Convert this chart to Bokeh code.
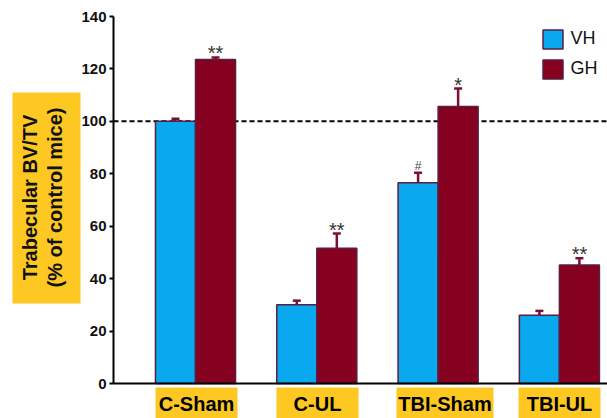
import math
from bokeh.plotting import figure
from bokeh.models import (ColumnDataSource, Range1d, FixedTicker, Whisker, TeeHead,
                          Legend, LegendItem, BoxAnnotation, Label)
from bokeh.transform import dodge
from bokeh.core.properties import value
from bokeh.embed import file_html
from bokeh.resources import INLINE

# ---- data ----
groups = ["C-Sham", "C-UL", "TBI-Sham", "TBI-UL"]
vh = [100.0, 30.0, 76.6, 26.0]
gh = [123.6, 51.6, 105.7, 45.2]
vh_err = [1.0, 1.6, 3.8, 1.7]
gh_err = [0.8, 5.6, 6.8, 2.6]
vh_marks = ["", "", "#", ""]
gh_marks = ["**", "**", "*", "**"]
y_ticks = [0, 20, 40, 60, 80, 100, 120, 140]
ref_line = 100

FONT = "Liberation Sans"
BLUE = "#0AA8EE"
RED = "#86001F"
EDGE = "#5A1E42"
YELLOW = "#FDC822"
BW = 0.33

# layout (pixels)
W, H = 607, 418
AX_X, AX_Y0, AX_Y140, C0, STEP = 113, 383, 16, 195, 121.3
ppu = (AX_Y0 - AX_Y140) / 140.0
x_start = -C0 / STEP
x_end = (W - C0) / STEP
axis_x = (AX_X - C0) / STEP
y_start = -(H - AX_Y0) / ppu
y_end = 140 + AX_Y140 / ppu

xs = list(range(len(groups)))
src = ColumnDataSource(dict(
    x=xs, vh=vh, gh=gh,
    vh_up=[v + e for v, e in zip(vh, vh_err)],
    gh_up=[v + e for v, e in zip(gh, gh_err)],
    vh_mark=vh_marks, gh_mark=gh_marks,
))

p = figure(width=W, height=H, output_backend="svg", toolbar_location=None,
           x_range=Range1d(x_start, x_end), y_range=Range1d(y_start, y_end),
           min_border_left=0, min_border_right=0, min_border_top=0, min_border_bottom=0)
p.outline_line_color = None
p.grid.visible = False
p.background_fill_color = "white"

# label boxes (screen units, frame == whole figure)
boxes = [(155, 237), (276, 358), (396, 493), (518, 600)]
for (l, r), g in zip(boxes, groups):
    p.add_layout(BoxAnnotation(left=l, right=r, top=H - 387, bottom=-5,
                               left_units="screen", right_units="screen",
                               top_units="screen", bottom_units="screen",
                               fill_color=YELLOW, fill_alpha=1, line_color=None,
                               level="underlay"))
    p.add_layout(Label(x=(l + r) / 2, y=H - 403, x_units="screen", y_units="screen", text=g,
                       text_font=FONT, text_font_style="bold", text_font_size="20px",
                       text_color="black", text_align="center", text_baseline="middle"))

p.add_layout(BoxAnnotation(left=12, right=80, top=H - 92, bottom=H - 303,
                           left_units="screen", right_units="screen",
                           top_units="screen", bottom_units="screen",
                           fill_color=YELLOW, fill_alpha=1, line_color=None, level="underlay"))
p.add_layout(Label(x=42, y=H - 197, x_units="screen", y_units="screen",
                   text="Trabecular BV/TV\n(% of control mice)", angle=math.pi / 2,
                   text_font=FONT, text_font_style="bold", text_font_size="20px",
                   text_color="#111111", text_align="center", text_baseline="middle",
                   text_line_height=1.1))

# reference line
p.segment(x0=[axis_x], y0=[ref_line], x1=[x_end], y1=[ref_line],
          line_color="black", line_width=2, line_dash="5 3")

r_vh = p.vbar(x=dodge("x", -BW / 2), top="vh", width=BW, source=src,
              fill_color=BLUE, line_color=EDGE, line_width=1.5)
r_gh = p.vbar(x=dodge("x", BW / 2), top="gh", width=BW, source=src,
              fill_color=RED, line_color=EDGE, line_width=1.5)

for col, up, off in (("vh", "vh_up", -BW / 2), ("gh", "gh_up", BW / 2)):
    w = Whisker(base=dodge("x", off), lower=col, upper=up, source=src,
                line_color="#7A0F35", line_width=2.5, lower_head=None,
                upper_head=TeeHead(size=8, line_color="#7A0F35", line_width=2.5))
    p.add_layout(w)

p.text(x=dodge("x", -BW / 2), y="vh_up", text="vh_mark", source=src,
       text_font=value(FONT), text_font_size="12px", text_color="#444444",
       text_align="center", text_baseline="alphabetic", y_offset=-7)
p.text(x=dodge("x", BW / 2), y="gh_up", text="gh_mark", source=src,
       text_font=value(FONT), text_font_size="20px", text_color="#333333",
       text_align="center", text_baseline="alphabetic", y_offset=-4)

# axes (placed inside the frame)
p.yaxis.fixed_location = axis_x
p.yaxis.bounds = (0, 140)
p.yaxis.ticker = FixedTicker(ticks=y_ticks)
p.yaxis.axis_line_width = 2
p.yaxis.axis_line_color = "black"
p.yaxis.major_tick_line_width = 2
p.yaxis.major_tick_in = 0
p.yaxis.major_tick_out = 4
p.yaxis.minor_tick_line_color = None
p.yaxis.major_label_text_font = FONT
p.yaxis.major_label_text_font_style = "bold"
p.yaxis.major_label_text_font_size = "15px"
p.yaxis.major_label_text_color = "#111111"
p.yaxis.major_label_standoff = 3

p.xaxis.fixed_location = 0
p.xaxis.bounds = (axis_x, x_end)
p.xaxis.ticker = FixedTicker(ticks=[])
p.xaxis.axis_line_width = 2
p.xaxis.axis_line_color = "black"
p.xaxis.major_tick_line_color = None
p.xaxis.minor_tick_line_color = None
p.xaxis.major_label_text_font_size = "0px"

legend = Legend(items=[LegendItem(label="VH", renderers=[r_vh]),
                       LegendItem(label="GH", renderers=[r_gh])],
                location=(539.5, H - 80.6), glyph_width=25, glyph_height=24, spacing=6,
                padding=0, margin=0, label_standoff=6, border_line_color=None,
                background_fill_alpha=0, label_text_font=FONT,
                label_text_font_size="18px", label_text_color="#111111")
p.add_layout(legend)

open("out.html", "w").write(file_html(p, INLINE))
